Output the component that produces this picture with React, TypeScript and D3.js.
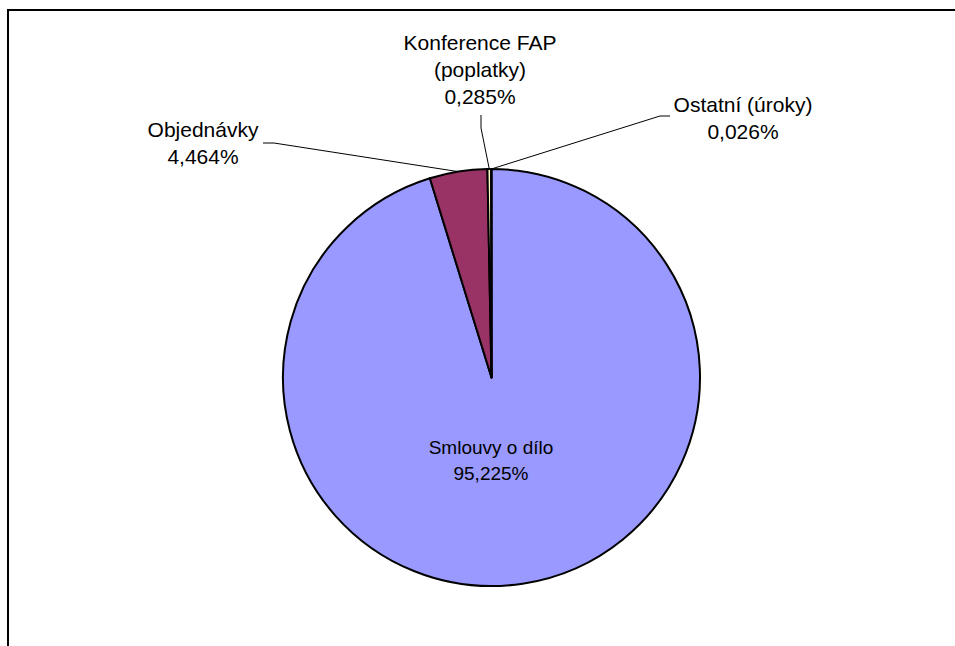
import * as d3 from 'd3';

const categories = ['Smlouvy o dílo', 'Objednávky', 'Konference FAP', 'Ostatní (úroky)'];
const values = [95.225, 4.464, 0.285, 0.026];
const valueLabels = ['95,225%', '4,464%', '0,285%', '0,026%'];
const colors = ['#9999FF', '#993366', '#FFFFCC', '#CCFFFF'];

// label blocks: lines of text, anchor centre and first baseline
const labelLines = [
  ['Smlouvy o dílo', valueLabels[0]],
  ['Objednávky', valueLabels[1]],
  ['Konference FAP', '(poplatky)', valueLabels[2]],
  ['Ostatní (úroky)', valueLabels[3]],
];
const labelPos = [
  { x: 491, y: 454, size: 19, lh: 26 },
  { x: 203, y: 137, size: 21, lh: 27 },
  { x: 480, y: 50, size: 21, lh: 27 },
  { x: 743, y: 112, size: 21, lh: 27 },
];

const cx = 491.5;
const cy = 377.5;
const r = 208.5;

export default function App() {
  const pie = d3.pie<number>().sort(null).value(d => d)(values);
  const arc = d3.arc<d3.PieArcDatum<number>>().innerRadius(0).outerRadius(r);

  const edge = (a: d3.PieArcDatum<number>) => {
    const m = (a.startAngle + a.endAngle) / 2;
    return [cx + r * Math.sin(m), cy - r * Math.cos(m)];
  };

  // leader lines for the outside labels
  const leaders: string[] = [];
  {
    const [x, y] = edge(pie[1]);
    leaders.push(`M263,143 L274,143 L${x},${y}`);
  }
  {
    const [x, y] = edge(pie[2]);
    leaders.push(`M481,115 L481,128 L${x},${y}`);
  }
  {
    const [x, y] = edge(pie[3]);
    leaders.push(`M670,116 L660,116 L${x},${y}`);
  }

  return (
    <svg width={955} height={646} style={{ position: 'absolute', left: 0, top: 0, background: '#fff' }}
      fontFamily="'Liberation Sans', Arial, sans-serif">
      <rect x={8} y={10} width={1000} height={700} fill="#fff" stroke="#000" strokeWidth={2} />
      <g transform={`translate(${cx},${cy})`}>
        {pie.map((p, i) => (
          <path key={categories[i]} d={arc(p) || undefined} fill={colors[i]} stroke="#000" strokeWidth={2} strokeLinejoin="round" />
        ))}
      </g>
      {leaders.map((d, i) => (
        <path key={i} d={d} fill="none" stroke="#000" strokeWidth={1} />
      ))}
      {labelLines.map((lines, i) => (
        <text key={categories[i]} x={labelPos[i].x} y={labelPos[i].y} textAnchor="middle" fontSize={labelPos[i].size} fill="#000">
          {lines.map((t, j) => (
            <tspan key={j} x={labelPos[i].x} dy={j === 0 ? 0 : labelPos[i].lh}>{t}</tspan>
          ))}
        </text>
      ))}
    </svg>
  );
}
